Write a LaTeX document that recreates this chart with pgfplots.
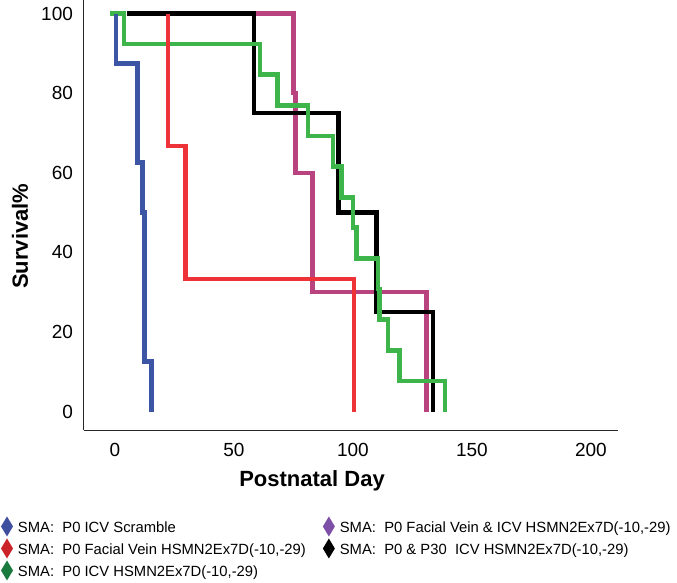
\documentclass[border=0pt]{standalone}
\usepackage{fontspec}
\setmainfont{Liberation Sans}
\usepackage{pgfplots}
\pgfplotsset{compat=1.18}
\definecolor{cblue}{HTML}{3C55A5}
\definecolor{cred}{HTML}{EE3338}
\definecolor{cgreen}{HTML}{3DB54A}
\definecolor{cmag}{HTML}{B8437F}
\definecolor{dblue}{HTML}{3F4FA0}
\definecolor{dred}{HTML}{CC2229}
\definecolor{dgreen}{HTML}{1B7B3F}
\definecolor{dpurple}{HTML}{7D4FA6}
\pgfdeclareplotmark{mydiamond}{%
  \pgfpathmoveto{\pgfqpoint{0pt}{5pt}}%
  \pgfpathlineto{\pgfqpoint{3pt}{0pt}}%
  \pgfpathlineto{\pgfqpoint{0pt}{-5pt}}%
  \pgfpathlineto{\pgfqpoint{-3pt}{0pt}}%
  \pgfpathclose\pgfusepathqfill}
\begin{document}
\begin{tikzpicture}
\begin{axis}[
  scale only axis, width=267pt, height=215pt,
  xmin=-13, xmax=211.4, ymin=-4.77, ymax=103.27,
  axis x line=bottom, axis y line=left,
  axis line style={-, line width=0.5pt, black!85},
  xtick={0,50,100,150,200}, ytick={0,20,40,60,80,100},
  major tick length=0pt,
  /pgf/number format/assume math mode=true,
  tick label style={font=\fontsize{9.5}{11}\selectfont},
  yticklabel style={xshift=-2pt},
  xticklabel style={yshift=-3pt},
  xlabel={Postnatal Day}, ylabel={Survival\%},
  label style={font=\bfseries\fontsize{11}{13}\selectfont},
  xlabel style={at={(axis description cs:0.427,-0.1163)}, anchor=center},
  ylabel style={at={(axis description cs:-0.1199,0.452)}, anchor=center},
  clip=false,
  legend columns=2,
  legend cell align=left,
  legend style={at={(axis description cs:0,0)}, anchor=north west,
    xshift=-41.5pt, yshift=-45.2pt, draw=none, fill=none,
    inner sep=0pt, outer sep=0pt, font=\fontsize{7.4}{9}\selectfont,
    row sep=3pt,
    nodes={inner sep=0pt, text height=6pt, text depth=2pt},
    /tikz/every even column/.append style={column sep=8.5pt}},
  legend image code/.code={\draw[#1, line width=0.1pt, overlay] plot coordinates {(3pt,1.2pt)}; \path[draw=none, fill=none] (0pt,0pt) rectangle (8.5pt,1pt);},
]
\addplot[cmag, line width=2.2pt, forget plot] coordinates {(58,100)(75,100)(75,80)(75.8,80)(75.8,60)(83,60)(83,30)(131,30)(131,0)};
\addplot[black, line width=2.3pt, forget plot] coordinates {(5,100)(58.4,100)(58.4,75)(94,75)(94,50)(110,50)(110,25)(133.7,25)(133.7,0)};
\addplot[cgreen, line width=2.3pt, forget plot] coordinates {(-2,100)(3.8,100)(3.8,92.3)(60.9,92.3)(60.9,84.6)(68.2,84.6)(68.2,76.9)(81.2,76.9)(81.2,69.2)(91.7,69.2)(91.7,61.5)(95.2,61.5)(95.2,53.8)(100.1,53.8)(100.1,46.2)(101.5,46.2)(101.5,38.5)(110.6,38.5)(110.6,30.8)(111.3,30.8)(111.3,23.1)(114.8,23.1)(114.8,15.4)(119.7,15.4)(119.7,7.7)(138.7,7.7)(138.7,0)};
\addplot[cred, line width=2.2pt, forget plot] coordinates {(22.4,100)(22.4,66.7)(29.7,66.7)(29.7,33.3)(100.4,33.3)(100.4,0)};
\addplot[cblue, line width=2.3pt, forget plot] coordinates {(0.4,100)(0.4,87.5)(9.5,87.5)(9.5,62.5)(11.6,62.5)(11.6,50)(12.3,50)(12.3,12.5)(15.4,12.5)(15.4,0)};
\addlegendimage{only marks, mark=mydiamond, dblue}
\addlegendentry{SMA:\ \ P0 ICV Scramble}
\addlegendimage{only marks, mark=mydiamond, dpurple}
\addlegendentry{SMA:\ \ P0 Facial Vein \& ICV HSMN2Ex7D(-10,-29)}
\addlegendimage{only marks, mark=mydiamond, dred}
\addlegendentry{SMA:\ \ P0 Facial Vein HSMN2Ex7D(-10,-29)}
\addlegendimage{only marks, mark=mydiamond, black}
\addlegendentry{SMA:\ \ P0 \& P30\ \ ICV HSMN2Ex7D(-10,-29)}
\addlegendimage{only marks, mark=mydiamond, dgreen}
\addlegendentry{SMA:\ \ P0 ICV HSMN2Ex7D(-10,-29)}
\path (rel axis cs:-0.1573,1) rectangle (rel axis cs:1.1105,-0.3535);
\end{axis}
\end{tikzpicture}
\end{document}
